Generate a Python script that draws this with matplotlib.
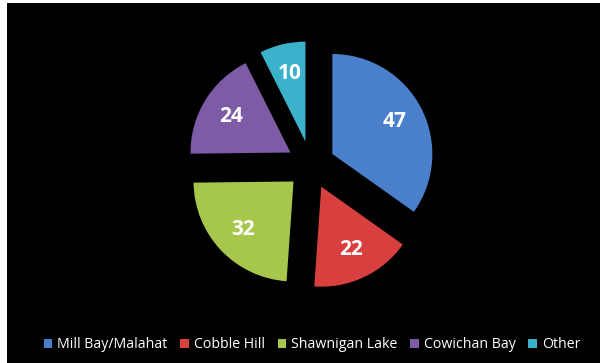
import matplotlib.pyplot as plt
from matplotlib.patches import Rectangle

regions = ["Mill Bay/Malahat", "Cobble Hill", "Shawnigan Lake", "Cowichan Bay", "Other"]
counts = [47, 22, 32, 24, 10]
colors = ["#4a7fcb", "#d8403f", "#a6c64c", "#7e5ba6", "#3cb1cb"]

fig = plt.figure(figsize=(6.0, 3.63), dpi=100, facecolor="white")
ax = fig.add_axes([0, 0, 1, 1])

# black chart area with the thin white margin on the left and top
ax.add_patch(Rectangle((7, 0), 593, 360, facecolor="black", edgecolor="none", zorder=0))

# explode is in data units here (pixels), not a fraction of the radius
wedges, texts = ax.pie(
    counts,
    colors=colors,
    explode=[24] * len(counts),
    startangle=90,
    counterclock=False,
    center=(311, 198),
    radius=100,
    labels=[str(c) for c in counts],
    labeldistance=0.7,
    frame=True,
    wedgeprops=dict(edgecolor="none", zorder=2),
    textprops=dict(color="white", fontsize=15, fontweight="bold", family="Open Sans",
                   ha="center", va="center", zorder=3),
)
ax.set_xlim(0, 600)
ax.set_ylim(0, 363)
ax.axis("off")

clip = Rectangle((191, 0), 240, 363, transform=ax.transData)
for w in wedges:
    w.set_clip_path(clip)

handles = [Rectangle((0, 0), 1, 1, facecolor=c) for c in colors]
leg = fig.legend(
    handles, regions,
    loc="center", bbox_to_anchor=(312 / 600, 1 - 345 / 363),
    ncol=5, frameon=False, handlelength=0.6, handleheight=0.6,
    handletextpad=0.35, columnspacing=0.9,
    prop=dict(family="Open Sans", size=10.2),
)
for t in leg.get_texts():
    t.set_color("white")

fig.savefig("out.png", dpi=100, facecolor="white")
